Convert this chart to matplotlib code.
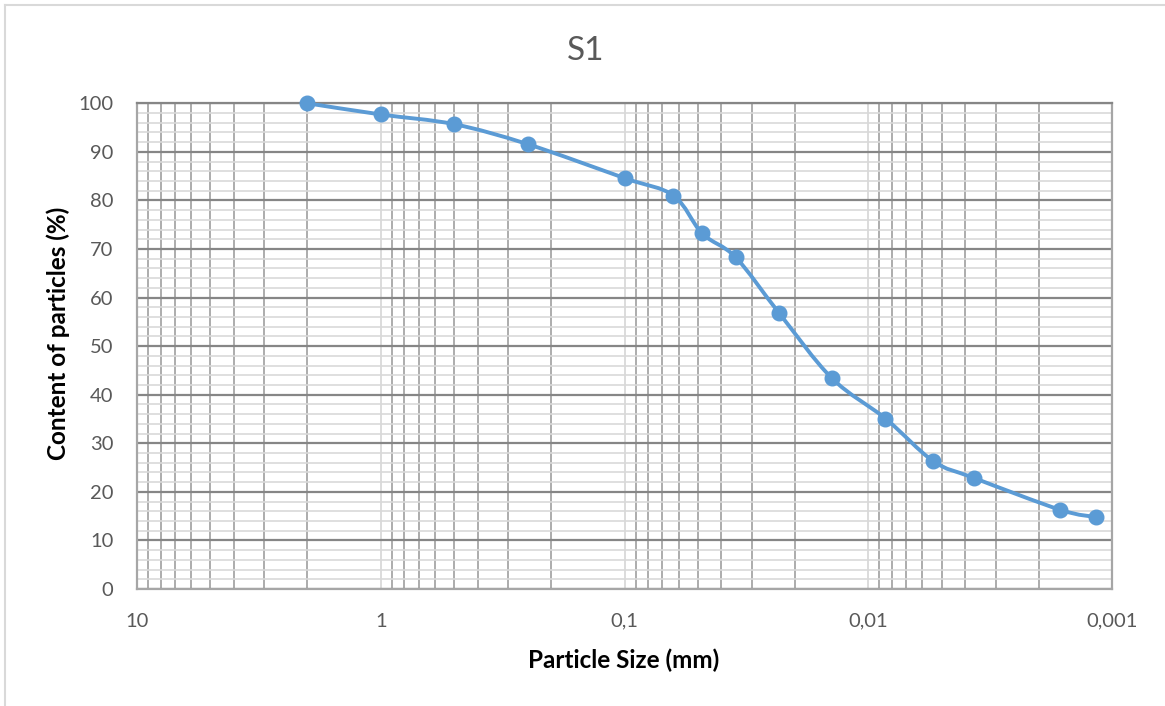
import numpy as np
import matplotlib
matplotlib.use("Agg")
import matplotlib.pyplot as plt
from matplotlib.path import Path
from matplotlib.patches import PathPatch
from matplotlib.ticker import FixedLocator, NullFormatter
from matplotlib.lines import Line2D

# ---- data ----
title = "S1"
x_label = "Particle Size (mm)"
y_label = "Content of particles (%)"
particle_size = [2.0, 1.0, 0.5, 0.25, 0.1, 0.063, 0.048, 0.035, 0.0232, 0.0141,
                 0.0085, 0.0054, 0.0037, 0.00163, 0.00116]
content = [100.0, 97.7, 95.7, 91.6, 84.6, 81.0, 73.2, 68.3, 56.8, 43.4,
           35.1, 26.3, 22.9, 16.3, 14.8]
x_ticks = [10, 1, 0.1, 0.01, 0.001]
x_tick_labels = ["10", "1", "0,1", "0,01", "0,001"]
y_ticks = list(range(0, 101, 10))

plt.rcParams['font.family'] = ['Lato', 'DejaVu Sans']

W, H = 1165, 706
fig = plt.figure(figsize=(W / 100, H / 100), dpi=100)
ax = fig.add_axes([137 / W, 1 - 589 / H, (1112 - 137) / W, (589 - 103.3) / H])

ax.set_xscale('log')
ax.set_xlim(10, 0.001)
ax.set_ylim(0, 100)

# gridlines
ax.xaxis.set_major_locator(FixedLocator(x_ticks))
minor_x = [m * 10.0 ** e for e in range(-3, 1) for m in range(2, 10)]
ax.xaxis.set_minor_locator(FixedLocator(minor_x))
ax.xaxis.set_minor_formatter(NullFormatter())
ax.set_xticks(x_ticks)
ax.set_xticklabels(x_tick_labels)
ax.yaxis.set_major_locator(FixedLocator(y_ticks))
ax.yaxis.set_minor_locator(FixedLocator(list(range(0, 101, 2))))

ax.grid(which='minor', axis='y', color='#d9d9d9', linewidth=1.2, zorder=0)
ax.grid(which='minor', axis='x', color='#a6a6a6', linewidth=1.3, zorder=0.5)
ax.grid(which='major', axis='x', color='#d9d9d9', linewidth=1.3, zorder=0.6)
ax.grid(which='major', axis='y', color='#868686', linewidth=1.6, zorder=0.7)
ax.set_axisbelow(True)

for side in ['left', 'right', 'bottom', 'top']:
    ax.spines[side].set_color('#a6a6a6')
    ax.spines[side].set_linewidth(1.6)
ax.spines['top'].set_color('#868686')

ax.tick_params(which='both', length=0)
ax.tick_params(axis='x', pad=17, labelsize=14.5, labelcolor='#595959')
ax.tick_params(axis='y', pad=17, labelsize=14.5, labelcolor='#595959')

# smoothed line (Catmull-Rom -> cubic Bezier in log-x space)
lx = np.log10(np.array(particle_size))
yy = np.array(content)
pts = np.column_stack([lx, yy])
n = len(pts)
verts = [pts[0]]
codes = [Path.MOVETO]
for i in range(n - 1):
    p0 = pts[i - 1] if i > 0 else pts[i]
    p1 = pts[i]
    p2 = pts[i + 1]
    p3 = pts[i + 2] if i + 2 < n else pts[i + 1]
    c1 = p1 + (p2 - p0) / 6.0
    c2 = p2 - (p3 - p1) / 6.0
    verts += [c1, c2, p2]
    codes += [Path.CURVE4] * 3
verts = np.array(verts)
verts[:, 0] = 10.0 ** verts[:, 0]
patch = PathPatch(Path(verts, codes), fill=False, edgecolor='#5b9bd5',
                  linewidth=2.8, capstyle='round', joinstyle='round', zorder=3)
ax.add_patch(patch)
ax.plot(particle_size, content, linestyle='none', marker='o', markersize=10.5,
        color='#5b9bd5', zorder=4, clip_on=False)

# labels and title
fig.text(624 / W, 1 - 660 / H, x_label, fontsize=17.5, fontweight='bold',
         color='black', ha='center', va='center')
fig.text(58 / W, 1 - 333 / H, y_label, fontsize=17.5, fontweight='bold',
         color='black', ha='center', va='center', rotation=90)
fig.text(586 / W, 1 - 51 / H, title, fontsize=24, color='#595959',
         ha='center', va='center')

# outer chart border (visible on top and left)
fig.add_artist(Line2D([4.5 / W, 4.5 / W], [0, 1 - 4.5 / H], transform=fig.transFigure,
                      color='#d9d9d9', linewidth=1.5))
fig.add_artist(Line2D([4.5 / W, 1], [1 - 4.5 / H, 1 - 4.5 / H], transform=fig.transFigure,
                      color='#d9d9d9', linewidth=1.5))

fig.savefig("out.png", dpi=100)
